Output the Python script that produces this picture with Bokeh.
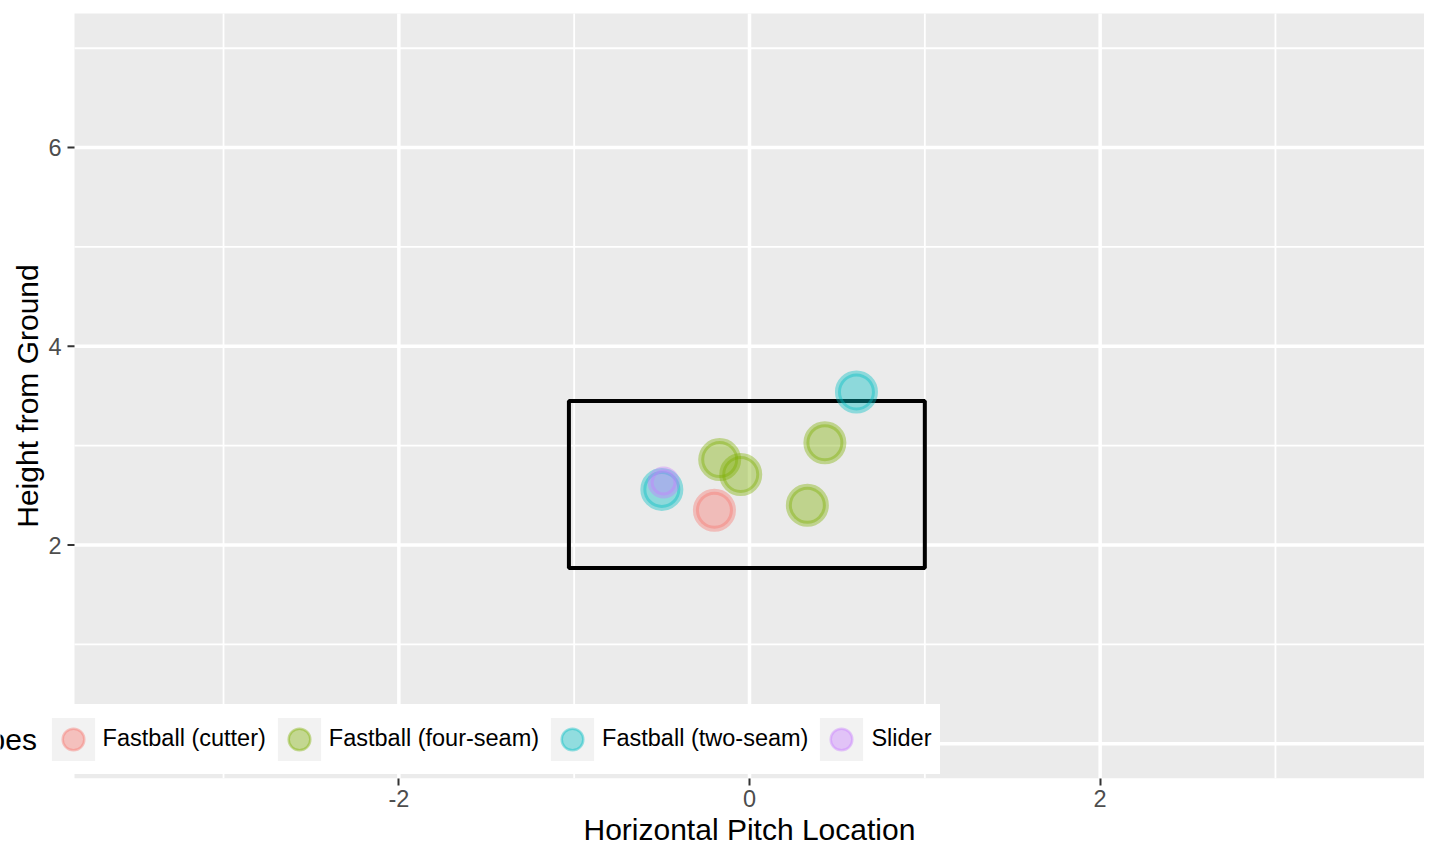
import numpy as np
from bokeh.plotting import figure
from bokeh.models import FixedTicker, Range1d, Legend, LegendItem, Label, Title
from bokeh.core.properties import value
from bokeh.embed import file_html
from bokeh.resources import INLINE

# pitch data
pitch_types = ["Fastball (cutter)", "Fastball (four-seam)", "Fastball (two-seam)", "Slider"]
colors = ["#F8766D", "#7CAE00", "#00BFC4", "#C77CFF"]

cutter_x = [-0.20]
cutter_z = [2.35]
fourseam_x = [-0.17, -0.05, 0.43, 0.33]
fourseam_z = [2.86, 2.71, 3.03, 2.40]
twoseam_x = [0.61, -0.50]
twoseam_z = [3.54, 2.56]
slider_x = [-0.49]
slider_z = [2.63]
point_size = [37, 37, 37, 26]   # slider dots are drawn smaller

# strike zone
zone_left = [-1.03]
zone_right = [1.00]
zone_top = [3.45]
zone_bottom = [1.77]

# panel limits and breaks
x_lim = (-3.85, 3.85)
y_lim = (-0.35, 7.35)
x_ticks = [-2, 0, 2]
x_minor = [-3, -1, 1, 3]
y_ticks = [0, 2, 4, 6]
y_minor = [1, 3, 5, 7]

FONT = "Liberation Sans"
PANEL_W, PANEL_H = 1350, 765
LEFT, TOP, RIGHT = 74, 13, 0          # white space around the grey panel, px
pxu = PANEL_W / (x_lim[1] - x_lim[0])
pyu = PANEL_H / (y_lim[1] - y_lim[0])

p = figure(frame_width=LEFT + PANEL_W + RIGHT, frame_height=TOP + PANEL_H,
           x_range=Range1d(x_lim[0] - LEFT / pxu, x_lim[1] + RIGHT / pxu),
           y_range=Range1d(y_lim[0], y_lim[1] + TOP / pyu),
           y_axis_location=None, toolbar_location=None, tools="", output_backend="svg",
           min_border_left=0, min_border_right=0, min_border_top=0, min_border_bottom=70,
           background_fill_color="white", border_fill_color="white",
           outline_line_color=None)
p.grid.visible = False

# grey panel + grid lines (drawn only inside the panel)
p.quad(left=[x_lim[0]], right=[x_lim[1]], bottom=[y_lim[0]], top=[y_lim[1]],
       fill_color="#EBEBEB", line_color=None)
p.segment(x0=x_minor, x1=x_minor, y0=[y_lim[0]] * len(x_minor), y1=[y_lim[1]] * len(x_minor),
          line_color="white", line_width=1.8)
p.segment(x0=[x_lim[0]] * len(y_minor), x1=[x_lim[1]] * len(y_minor), y0=y_minor, y1=y_minor,
          line_color="white", line_width=1.8)
p.segment(x0=x_ticks, x1=x_ticks, y0=[y_lim[0]] * len(x_ticks), y1=[y_lim[1]] * len(x_ticks),
          line_color="white", line_width=3.5)
p.segment(x0=[x_lim[0]] * len(y_ticks), x1=[x_lim[1]] * len(y_ticks), y0=y_ticks, y1=y_ticks,
          line_color="white", line_width=3.5)

# y axis: ticks, labels, title
p.segment(x0=[x_lim[0] - 7 / pxu] * len(y_ticks), x1=[x_lim[0]] * len(y_ticks),
          y0=y_ticks, y1=y_ticks, line_color="#333333", line_width=2)
p.text(x=[x_lim[0]] * len(y_ticks), y=y_ticks, text=[str(t) for t in y_ticks],
       x_offset=-13, text_align="right", text_baseline="middle",
       text_font=value(FONT), text_font_size=value("23.5px"), text_color="#4D4D4D")
p.add_layout(Label(x=x_lim[0], y=(y_lim[0] + y_lim[1]) / 2, x_offset=-47.5, angle=np.pi / 2,
                   text="Height from Ground", text_align="center", text_baseline="alphabetic",
                   text_font=FONT, text_font_size="30px", text_color="black"))

# x axis
ax = p.xaxis[0]
ax.ticker = FixedTicker(ticks=x_ticks, minor_ticks=[])
ax.major_label_overrides = {t: str(t) for t in x_ticks}
ax.axis_line_color = None
ax.major_tick_line_color = "#333333"
ax.major_tick_line_width = 2
ax.major_tick_out = 7
ax.major_tick_in = 0
ax.minor_tick_line_color = None
ax.major_label_standoff = 4
ax.major_label_text_font = FONT
ax.major_label_text_font_size = "23.5px"
ax.major_label_text_color = "#4D4D4D"
p.add_layout(Title(text="Horizontal Pitch Location", align="left", offset=583, standoff=1.5,
                   text_font=FONT, text_font_size="30px", text_font_style="normal",
                   text_color="black"), "below")

# strike zone box
p.quad(left=zone_left, right=zone_right, top=zone_top, bottom=zone_bottom,
       fill_color=None, line_color="black", line_width=4)

series = [(cutter_x, cutter_z), (fourseam_x, fourseam_z),
          (twoseam_x, twoseam_z), (slider_x, slider_z)]
for (xs, zs), color, size in zip(series, colors, point_size):
    p.scatter(x=xs, y=zs, marker="circle", size=size, fill_color=color, line_color=color,
              fill_alpha=0.4, line_alpha=0.4, line_width=6)

# legend keys (grey square + small circle), not drawn in the plot
items = []
for name, color in zip(pitch_types, colors):
    nan = np.array([np.nan])
    key = p.quad(left=nan, right=nan, top=nan, bottom=nan,
                 fill_color="#F2F2F2", line_color=None)
    dot = p.scatter(x=nan, y=nan, marker="circle", size=10, fill_color=color,
                    line_color=color, fill_alpha=0.4, line_alpha=0.4, line_width=2.5)
    items.append(LegendItem(label=name, renderers=[key, dot]))

# border kept (white) so that the padding is applied
legend = Legend(items=items, orientation="horizontal", location=(37.6, 4.5),
                glyph_width=54, glyph_height=54, label_standoff=3, spacing=6,
                padding=7, margin=0, border_line_color="white", border_line_width=1,
                background_fill_color="white", background_fill_alpha=1,
                label_text_font=FONT, label_text_font_size="23.5px",
                label_text_color="black")
p.add_layout(legend, "center")

# legend title, cut off at the left edge as in the original
p.add_layout(Label(x=x_lim[0], y=y_lim[0], x_offset=-37, y_offset=39, text="Pitch Types",
                   text_align="right", text_baseline="middle", text_font=FONT,
                   text_font_size="30px", text_color="black"))

open("out.html", "w").write(file_html(p, INLINE))
